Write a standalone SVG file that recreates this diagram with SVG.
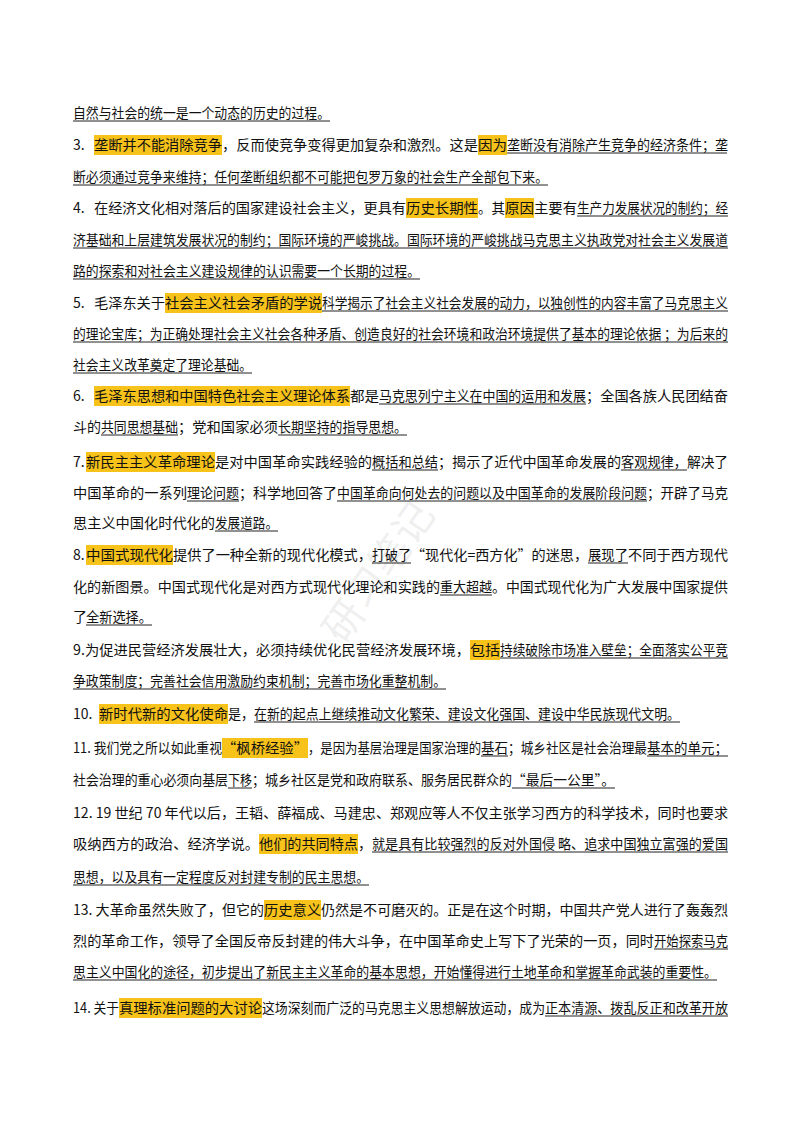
<svg xmlns="http://www.w3.org/2000/svg" width="800" height="1132" viewBox="0 0 800 1132">
<style>
text{font-family:"Noto Sans CJK SC","Noto Sans",sans-serif;font-size:14px;fill:#111}
.h{fill:#f7c21a}
.u{stroke:#222;stroke-width:1}
.wm{font-size:40px;fill:#000;opacity:0.06}
</style>
<rect width="800" height="1132" fill="#fff"/>
<g id="highlights">
<rect class="h" x="94" y="135" width="128" height="20"/>
<rect class="h" x="478" y="135" width="29" height="20"/>
<rect class="h" x="406" y="198" width="72" height="20"/>
<rect class="h" x="505" y="198" width="29" height="20"/>
<rect class="h" x="165" y="293" width="157" height="20"/>
<rect class="h" x="94" y="386" width="256" height="20"/>
<rect class="h" x="86" y="452" width="129" height="20"/>
<rect class="h" x="86" y="545" width="87" height="20"/>
<rect class="h" x="470" y="640" width="30" height="20"/>
<rect class="h" x="99" y="704" width="129" height="20"/>
<rect class="h" x="222" y="738" width="86" height="20"/>
<rect class="h" x="259" y="834" width="99" height="20"/>
<rect class="h" x="264" y="900" width="57" height="20"/>
<rect class="h" x="119" y="998" width="143" height="20"/>
</g>
<g id="underlines">
<line class="u" x1="73" y1="121" x2="330" y2="121"/>
<line class="u" x1="507" y1="153" x2="727" y2="153"/>
<line class="u" x1="73" y1="185" x2="548" y2="185"/>
<line class="u" x1="577" y1="216" x2="728" y2="216"/>
<line class="u" x1="73" y1="248" x2="728" y2="248"/>
<line class="u" x1="73" y1="279" x2="420" y2="279"/>
<line class="u" x1="322" y1="311" x2="728" y2="311"/>
<line class="u" x1="73" y1="342" x2="728" y2="342"/>
<line class="u" x1="73" y1="373" x2="252" y2="373"/>
<line class="u" x1="379" y1="404" x2="586" y2="404"/>
<line class="u" x1="101" y1="435" x2="178" y2="435"/>
<line class="u" x1="278" y1="435" x2="407" y2="435"/>
<line class="u" x1="372" y1="470" x2="438" y2="470"/>
<line class="u" x1="621" y1="470" x2="687" y2="470"/>
<line class="u" x1="187" y1="501" x2="239" y2="501"/>
<line class="u" x1="337" y1="501" x2="647" y2="501"/>
<line class="u" x1="215" y1="531" x2="278" y2="531"/>
<line class="u" x1="372" y1="563" x2="411" y2="563"/>
<line class="u" x1="588" y1="563" x2="628" y2="563"/>
<line class="u" x1="440" y1="595" x2="492" y2="595"/>
<line class="u" x1="86" y1="625" x2="152" y2="625"/>
<line class="u" x1="500" y1="658" x2="728" y2="658"/>
<line class="u" x1="73" y1="689" x2="446" y2="689"/>
<line class="u" x1="254" y1="722" x2="680" y2="722"/>
<line class="u" x1="481" y1="756" x2="508" y2="756"/>
<line class="u" x1="647" y1="756" x2="728" y2="756"/>
<line class="u" x1="228" y1="788" x2="252" y2="788"/>
<line class="u" x1="512" y1="788" x2="615" y2="788"/>
<line class="u" x1="372" y1="852" x2="728" y2="852"/>
<line class="u" x1="73" y1="885" x2="369" y2="885"/>
<line class="u" x1="654" y1="949" x2="728" y2="949"/>
<line class="u" x1="73" y1="980" x2="717" y2="980"/>
<line class="u" x1="545" y1="1016" x2="728" y2="1016"/>
</g>
<text class="wm" x="0" y="0" transform="translate(390,580) rotate(-55)" text-anchor="middle">研习笔记</text>
<g id="text" style="" >
<text x="73" y="118" textLength="257" lengthAdjust="spacingAndGlyphs">自然与社会的统一是一个动态的历史的过程。</text>
<text y="150"><tspan x="73">3.</tspan><tspan x="94" textLength="128" lengthAdjust="spacingAndGlyphs">垄断并不能消除竞争</tspan><tspan x="222" textLength="256" lengthAdjust="spacingAndGlyphs">，反而使竞争变得更加复杂和激烈。这是</tspan><tspan x="478" textLength="29" lengthAdjust="spacingAndGlyphs">因为</tspan><tspan x="507" textLength="221" lengthAdjust="spacingAndGlyphs">垄断没有消除产生竞争的经济条件；垄</tspan></text>
<text x="73" y="182" textLength="475" lengthAdjust="spacingAndGlyphs">断必须通过竞争来维持；任何垄断组织都不可能把包罗万象的社会生产全部包下来。</text>
<text y="213"><tspan x="73">4.</tspan><tspan x="94" textLength="312" lengthAdjust="spacingAndGlyphs">在经济文化相对落后的国家建设社会主义，更具有</tspan><tspan x="406" textLength="72" lengthAdjust="spacingAndGlyphs">历史长期性</tspan><tspan x="478" textLength="27" lengthAdjust="spacingAndGlyphs">。其</tspan><tspan x="505" textLength="29" lengthAdjust="spacingAndGlyphs">原因</tspan><tspan x="534" textLength="43" lengthAdjust="spacingAndGlyphs">主要有</tspan><tspan x="577" textLength="151" lengthAdjust="spacingAndGlyphs">生产力发展状况的制约；经</tspan></text>
<text x="73" y="245" textLength="655" lengthAdjust="spacingAndGlyphs">济基础和上层建筑发展状况的制约；国际环境的严峻挑战。国际环境的严峻挑战马克思主义执政党对社会主义发展道</text>
<text x="73" y="276" textLength="347" lengthAdjust="spacingAndGlyphs">路的探索和对社会主义建设规律的认识需要一个长期的过程。</text>
<text y="308"><tspan x="73">5.</tspan><tspan x="94" textLength="71" lengthAdjust="spacingAndGlyphs">毛泽东关于</tspan><tspan x="165" textLength="157" lengthAdjust="spacingAndGlyphs">社会主义社会矛盾的学说</tspan><tspan x="322" textLength="406" lengthAdjust="spacingAndGlyphs">科学揭示了社会主义社会发展的动力，以独创性的内容丰富了马克思主义</tspan></text>
<text x="73" y="339" textLength="655" lengthAdjust="spacingAndGlyphs">的理论宝库；为正确处理社会主义社会各种矛盾、创造良好的社会环境和政治环境提供了基本的理论依据 ；为后来的</text>
<text x="73" y="370" textLength="179" lengthAdjust="spacingAndGlyphs">社会主义改革奠定了理论基础。</text>
<text y="401"><tspan x="73">6.</tspan><tspan x="94" textLength="256" lengthAdjust="spacingAndGlyphs">毛泽东思想和中国特色社会主义理论体系</tspan><tspan x="350" textLength="29" lengthAdjust="spacingAndGlyphs">都是</tspan><tspan x="379" textLength="207" lengthAdjust="spacingAndGlyphs">马克思列宁主义在中国的运用和发展</tspan><tspan x="586" textLength="142" lengthAdjust="spacingAndGlyphs">；全国各族人民团结奋</tspan></text>
<text y="432"><tspan x="73" textLength="28" lengthAdjust="spacingAndGlyphs">斗的</tspan><tspan x="101" textLength="77" lengthAdjust="spacingAndGlyphs">共同思想基础</tspan><tspan x="178" textLength="100" lengthAdjust="spacingAndGlyphs">；党和国家必须</tspan><tspan x="278" textLength="129" lengthAdjust="spacingAndGlyphs">长期坚持的指导思想。</tspan></text>
<text y="467"><tspan x="73">7.</tspan><tspan x="86" textLength="129" lengthAdjust="spacingAndGlyphs">新民主主义革命理论</tspan><tspan x="215" textLength="157" lengthAdjust="spacingAndGlyphs">是对中国革命实践经验的</tspan><tspan x="372" textLength="66" lengthAdjust="spacingAndGlyphs">概括和总结</tspan><tspan x="438" textLength="183" lengthAdjust="spacingAndGlyphs">；揭示了近代中国革命发展的</tspan><tspan x="621" textLength="66" lengthAdjust="spacingAndGlyphs">客观规律，</tspan><tspan x="687" textLength="41" lengthAdjust="spacingAndGlyphs">解决了</tspan></text>
<text y="498"><tspan x="73" textLength="114" lengthAdjust="spacingAndGlyphs">中国革命的一系列</tspan><tspan x="187" textLength="52" lengthAdjust="spacingAndGlyphs">理论问题</tspan><tspan x="239" textLength="98" lengthAdjust="spacingAndGlyphs">；科学地回答了</tspan><tspan x="337" textLength="310" lengthAdjust="spacingAndGlyphs">中国革命向何处去的问题以及中国革命的发展阶段问题</tspan><tspan x="647" textLength="81" lengthAdjust="spacingAndGlyphs">；开辟了马克</tspan></text>
<text y="528"><tspan x="73" textLength="142" lengthAdjust="spacingAndGlyphs">思主义中国化时代化的</tspan><tspan x="215" textLength="63" lengthAdjust="spacingAndGlyphs">发展道路。</tspan></text>
<text y="560"><tspan x="73">8.</tspan><tspan x="86" textLength="87" lengthAdjust="spacingAndGlyphs">中国式现代化</tspan><tspan x="173" textLength="199" lengthAdjust="spacingAndGlyphs">提供了一种全新的现代化模式，</tspan><tspan x="372" textLength="39" lengthAdjust="spacingAndGlyphs">打破了</tspan><tspan x="411" textLength="177" lengthAdjust="spacingAndGlyphs">“现代化=西方化”的迷思，</tspan><tspan x="588" textLength="40" lengthAdjust="spacingAndGlyphs">展现了</tspan><tspan x="628" textLength="100" lengthAdjust="spacingAndGlyphs">不同于西方现代</tspan></text>
<text y="592"><tspan x="73" textLength="367" lengthAdjust="spacingAndGlyphs">化的新图景。中国式现代化是对西方式现代化理论和实践的</tspan><tspan x="440" textLength="52" lengthAdjust="spacingAndGlyphs">重大超越</tspan><tspan x="492" textLength="236" lengthAdjust="spacingAndGlyphs">。中国式现代化为广大发展中国家提供</tspan></text>
<text y="622"><tspan x="73">了</tspan><tspan x="86" textLength="66" lengthAdjust="spacingAndGlyphs">全新选择。</tspan></text>
<text y="655"><tspan x="73" textLength="397" lengthAdjust="spacingAndGlyphs">9.为促进民营经济发展壮大，必须持续优化民营经济发展环境，</tspan><tspan x="470" textLength="30" lengthAdjust="spacingAndGlyphs">包括</tspan><tspan x="500" textLength="228" lengthAdjust="spacingAndGlyphs">持续破除市场准入壁垒；全面落实公平竞</tspan></text>
<text x="73" y="686" textLength="373" lengthAdjust="spacingAndGlyphs">争政策制度；完善社会信用激励约束机制；完善市场化重整机制。</text>
<text y="719"><tspan x="73">10.</tspan><tspan x="99" textLength="129" lengthAdjust="spacingAndGlyphs">新时代新的文化使命</tspan><tspan x="228" textLength="26" lengthAdjust="spacingAndGlyphs">是，</tspan><tspan x="254" textLength="426" lengthAdjust="spacingAndGlyphs">在新的起点上继续推动文化繁荣、建设文化强国、建设中华民族现代文明。</tspan></text>
<text y="753"><tspan x="73" textLength="149" lengthAdjust="spacingAndGlyphs">11. 我们党之所以如此重视</tspan><tspan x="222" textLength="86" lengthAdjust="spacingAndGlyphs">“枫桥经验”</tspan><tspan x="308" textLength="173" lengthAdjust="spacingAndGlyphs">，是因为基层治理是国家治理的</tspan><tspan x="481" textLength="27" lengthAdjust="spacingAndGlyphs">基石</tspan><tspan x="508" textLength="139" lengthAdjust="spacingAndGlyphs">；城乡社区是社会治理最</tspan><tspan x="647" textLength="81" lengthAdjust="spacingAndGlyphs">基本的单元；</tspan></text>
<text y="785"><tspan x="73" textLength="155" lengthAdjust="spacingAndGlyphs">社会治理的重心必须向基层</tspan><tspan x="228" textLength="24" lengthAdjust="spacingAndGlyphs">下移</tspan><tspan x="252" textLength="260" lengthAdjust="spacingAndGlyphs">；城乡社区是党和政府联系、服务居民群众的</tspan><tspan x="512" textLength="103" lengthAdjust="spacingAndGlyphs">“最后一公里”。</tspan></text>
<text x="73" y="818" textLength="655" lengthAdjust="spacingAndGlyphs">12. 19 世纪 70 年代以后，王韬、薛福成、马建忠、郑观应等人不仅主张学习西方的科学技术，同时也要求</text>
<text y="849"><tspan x="73" textLength="186" lengthAdjust="spacingAndGlyphs">吸纳西方的政治、经济学说。</tspan><tspan x="259" textLength="99" lengthAdjust="spacingAndGlyphs">他们的共同特点</tspan><tspan x="358" textLength="14" lengthAdjust="spacingAndGlyphs">，</tspan><tspan x="372" textLength="356" lengthAdjust="spacingAndGlyphs">就是具有比较强烈的反对外国侵 略、追求中国独立富强的爱国</tspan></text>
<text x="73" y="882" textLength="296" lengthAdjust="spacingAndGlyphs">思想，以及具有一定程度反对封建专制的民主思想。</text>
<text y="915"><tspan x="73" textLength="191" lengthAdjust="spacingAndGlyphs">13. 大革命虽然失败了，但它的</tspan><tspan x="264" textLength="57" lengthAdjust="spacingAndGlyphs">历史意义</tspan><tspan x="321" textLength="407" lengthAdjust="spacingAndGlyphs">仍然是不可磨灭的。正是在这个时期，中国共产党人进行了轰轰烈</tspan></text>
<text y="946"><tspan x="73" textLength="581" lengthAdjust="spacingAndGlyphs">烈的革命工作，领导了全国反帝反封建的伟大斗争，在中国革命史上写下了光荣的一页，同时</tspan><tspan x="654" textLength="74" lengthAdjust="spacingAndGlyphs">开始探索马克</tspan></text>
<text x="73" y="977" textLength="644" lengthAdjust="spacingAndGlyphs">思主义中国化的途径，初步提出了新民主主义革命的基本思想，开始懂得进行土地革命和掌握革命武装的重要性。</text>
<text y="1013"><tspan x="73" textLength="46" lengthAdjust="spacingAndGlyphs">14. 关于</tspan><tspan x="119" textLength="143" lengthAdjust="spacingAndGlyphs">真理标准问题的大讨论</tspan><tspan x="262" textLength="283" lengthAdjust="spacingAndGlyphs">这场深刻而广泛的马克思主义思想解放运动，成为</tspan><tspan x="545" textLength="183" lengthAdjust="spacingAndGlyphs">正本清源、拨乱反正和改革开放</tspan></text>
</g>
</svg>
